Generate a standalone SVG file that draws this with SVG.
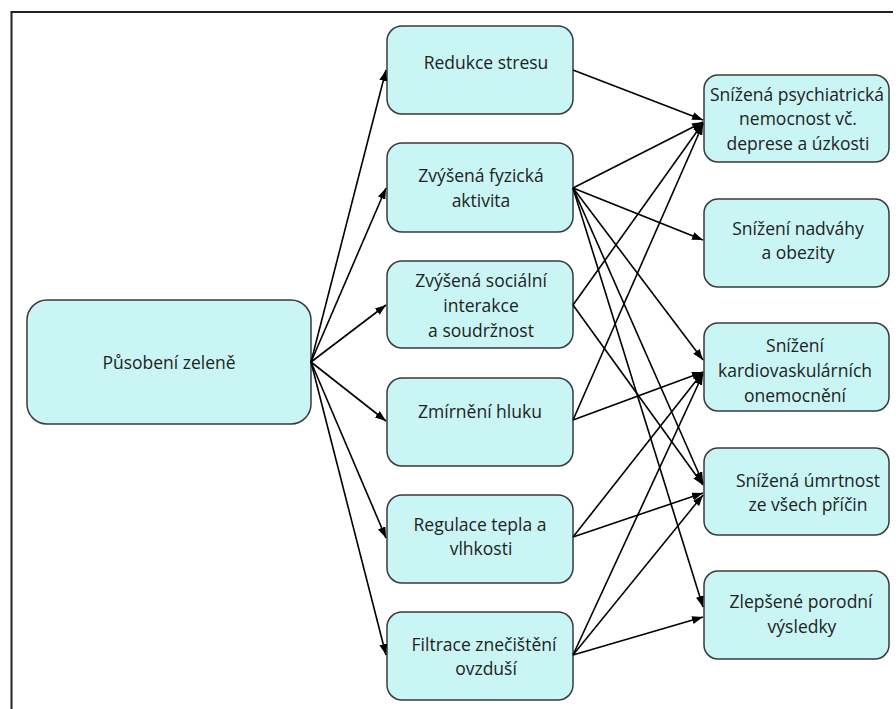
<svg xmlns="http://www.w3.org/2000/svg" width="896" height="709" viewBox="0 0 896 709">
<defs>
<marker id="ah" markerUnits="userSpaceOnUse" markerWidth="11" markerHeight="8" refX="11" refY="4" orient="auto">
<path d="M0,0 L11,4 L0,8 z" fill="#000"/>
</marker>
<style>
.box{fill:#c9f6f5;stroke:#3a3a3a;stroke-width:1.5}
.t{font-family:"Open Sans","Noto Sans","Liberation Sans",sans-serif;font-size:17.5px;fill:#222;text-anchor:middle}
.c{fill:none;stroke:#000;stroke-width:1.6;marker-end:url(#ah)}
</style>
</defs>
<rect width="896" height="709" fill="#fff"/>
<path d="M893,12 H11.5 V709" fill="none" stroke="#222" stroke-width="2"/>

<g id="n-zelen">
<rect class="box" x="27" y="300" width="284" height="124" rx="20"/>
<text class="t" x="169" y="369">Působení zeleně</text>
</g>

<g id="m1">
<rect class="box" x="387" y="26" width="186" height="88" rx="15"/>
<text class="t" x="486" y="69">Redukce stresu</text>
</g>
<g id="m2">
<rect class="box" x="387" y="143" width="186" height="89" rx="15"/>
<text class="t" x="481" y="182">Zvýšená fyzická</text>
<text class="t" x="481" y="207">aktivita</text>
</g>
<g id="m3">
<rect class="box" x="387" y="261" width="186" height="87" rx="15"/>
<text class="t" x="481" y="287">Zvýšená sociální</text>
<text class="t" x="481" y="312">interakce</text>
<text class="t" x="481" y="337">a soudržnost</text>
</g>
<g id="m4">
<rect class="box" x="387" y="378" width="186" height="88" rx="15"/>
<text class="t" x="480" y="418">Zmírnění hluku</text>
</g>
<g id="m5">
<rect class="box" x="387" y="495" width="186" height="88" rx="15"/>
<text class="t" x="480" y="531">Regulace tepla a</text>
<text class="t" x="481" y="555">vlhkosti</text>
</g>
<g id="m6">
<rect class="box" x="387" y="612" width="186" height="88" rx="15"/>
<text class="t" x="484" y="651">Filtrace znečištění</text>
<text class="t" x="486" y="675">ovzduší</text>
</g>

<g id="r1">
<rect class="box" x="704" y="75" width="185" height="87" rx="14"/>
<text class="t" x="797" y="101">Snížená psychiatrická</text>
<text class="t" x="798" y="125">nemocnost vč.</text>
<text class="t" x="798" y="150">deprese a úzkosti</text>
</g>
<g id="r2">
<rect class="box" x="704" y="199" width="185" height="88" rx="14"/>
<text class="t" x="798" y="235">Snížení nadváhy</text>
<text class="t" x="798" y="259">a obezity</text>
</g>
<g id="r3">
<rect class="box" x="704" y="323" width="185" height="88" rx="14"/>
<text class="t" x="795" y="352">Snížení</text>
<text class="t" x="795" y="377">kardiovaskulárních</text>
<text class="t" x="795" y="402">onemocnění</text>
</g>
<g id="r4">
<rect class="box" x="704" y="448" width="185" height="87" rx="14"/>
<text class="t" x="808" y="487">Snížená úmrtnost</text>
<text class="t" x="808" y="511">ze všech příčin</text>
</g>
<g id="r5">
<rect class="box" x="704" y="571" width="185" height="88" rx="14"/>
<text class="t" x="801" y="608">Zlepšené porodní</text>
<text class="t" x="802" y="633">výsledky</text>
</g>

<g id="connectors">
<path class="c" d="M311,362 L386,70"/>
<path class="c" d="M311,362 L386,188"/>
<path class="c" d="M311,362 L386,305"/>
<path class="c" d="M311,362 L386,421"/>
<path class="c" d="M311,362 L386,538"/>
<path class="c" d="M311,362 L386,655"/>

<path class="c" d="M573,70 L703,120"/>
<path class="c" d="M573,188 L703,122"/>
<path class="c" d="M573,188 L703,240"/>
<path class="c" d="M573,188 L703,360"/>
<path class="c" d="M573,188 L703,483"/>
<path class="c" d="M573,188 L703,607"/>
<path class="c" d="M573,305 L703,123"/>
<path class="c" d="M573,305 L703,485"/>
<path class="c" d="M573,420 L703,124"/>
<path class="c" d="M573,420 L703,372"/>
<path class="c" d="M573,537 L703,372"/>
<path class="c" d="M573,537 L703,493"/>
<path class="c" d="M573,655 L703,374"/>
<path class="c" d="M573,655 L703,495"/>
<path class="c" d="M573,655 L703,617"/>
</g>
</svg>
